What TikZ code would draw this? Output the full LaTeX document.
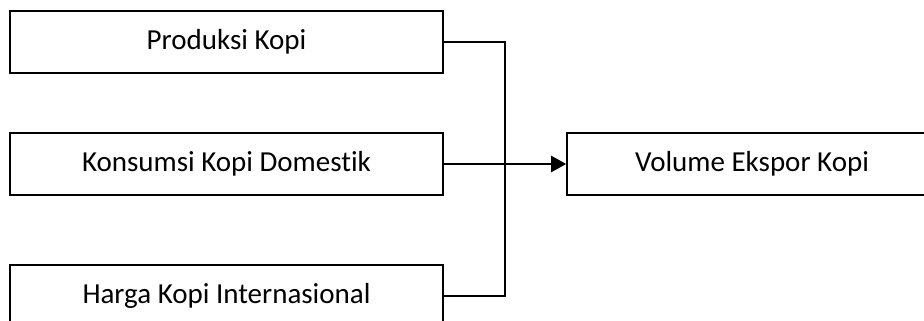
\documentclass[tikz,border=0pt]{standalone}
\usepackage{fontspec}
\setmainfont{Carlito}[Ligatures=NoCommon]
\usetikzlibrary{arrows.meta}
\tikzset{
  factor/.style={draw=black, line width=1.6pt, fill=white, rectangle,
    minimum height=62pt, inner sep=0pt, font=\fontsize{29}{34}\selectfont},
  link/.style={line width=2.4pt},
}
\begin{document}
\begin{tikzpicture}[x=1pt,y=-1pt]
\useasboundingbox (0,0) rectangle (924,321);
\clip (0,0) rectangle (924,321);
\fill[white] (0,0) rectangle (924,321);
% input factors
\node[factor, minimum width=433pt] (prod) at (226.5,42) {Produksi Kopi};
\node[factor, minimum width=433pt] (kons) at (226.5,164) {Konsumsi Kopi Domestik};
\node[factor, minimum width=433pt] (harga) at (226.5,296) {Harga Kopi Internasional};
% outcome
\node[factor, minimum width=370pt] (vol) at (752,164) {Volume Ekspor Kopi};
% junction on the collecting bus
\coordinate (bus) at (505,164);
\draw[link] (prod.east) -| (bus);
\draw[link] (harga.east) -| (bus);
\draw[link, -{Triangle[length=15pt,width=16pt]}] (kons.east) -- (vol.west);
\end{tikzpicture}
\end{document}
